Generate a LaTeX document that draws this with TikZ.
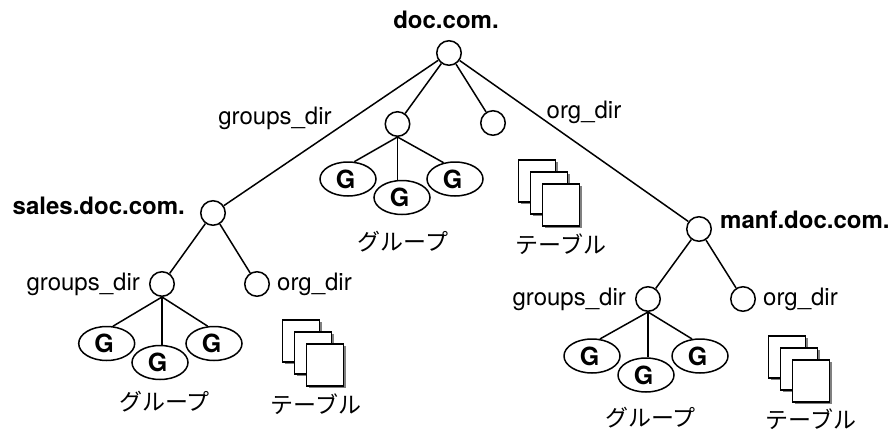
\documentclass[tikz,border=0pt]{standalone}
\usepackage{fontspec}
\setmainfont{TeX Gyre Heros}
\newfontfamily\jpfont{Noto Sans CJK JP}
\usepackage{tikz}
\usetikzlibrary{positioning, shadows, shapes.geometric}
\newcommand{\grpG}{G\kern5pt}
\tikzset{
	dirnode/.style = {draw, circle, line width=1.5pt, inner sep=0pt, minimum size=24.5pt, fill=white},
	grpnode/.style = {draw, ellipse, line width=1.5pt, inner sep=0pt, minimum width=56pt, minimum height=34pt, fill=white, font=\fontsize{25}{27}\selectfont\bfseries},
	page/.style = {draw, line width=1.5pt, inner sep=0pt, minimum width=37pt, minimum height=42pt, fill=white, drop shadow={shadow xshift=2pt, shadow yshift=-2pt, fill=gray, opacity=1}},
	dirlabel/.style = {inner sep=0pt, font=\fontsize{24}{27}\selectfont},
	domlabel/.style = {inner sep=0pt, font=\fontsize{24}{27}\selectfont\bfseries},
	jplabel/.style = {inner sep=0pt, font=\fontsize{23}{27}\selectfont\jpfont},
	link/.style = {line width=1.5pt}
}

\begin{document}
\begin{tikzpicture}[x=1pt, y=-1pt]
	\useasboundingbox (0,0) rectangle (890,433);

	% top level
	\node[dirnode] (root) at (449,53) {};
	\node[dirnode] (rootgrp) at (397.5,124) {};
	\node[dirnode] (rootmid) at (493,123) {};
	\node[dirnode] (sales) at (213,213) {};
	\node[dirnode] (manf) at (699,229) {};
	\node[domlabel] (rootlbl) at (446,20) {doc.com.};
	\node[dirlabel] (rootgrplbl) at (275,118) {groups\_dir};
	\node[dirlabel] (rootorglbl) at (584,112) {org\_dir};
	\node[grpnode] (rootg1) at (348,179) {\grpG};
	\node[grpnode] (rootg2) at (402,197.5) {\grpG};
	\node[grpnode] (rootg3) at (455,179) {\grpG};
	\node[jplabel] (rootgl) at (403,242) {グループ};
	\node[page] (rootp1) at (537,181) {};
	\node[page] (rootp2) at (549,193) {};
	\node[page] (rootp3) at (561,205) {};
	\node[jplabel] (roottl) at (561,244) {テーブル};

	% sales
	\node[dirnode] (salesgrp) at (162,284) {};
	\node[dirnode] (salesorg) at (257,284) {};
	\node[domlabel, anchor=east] (saleslbl) at (185,206) {sales.doc.com.};
	\node[dirlabel, left=9pt of salesgrp] (salesgrplbl) {groups\_dir};
	\node[dirlabel, right=7pt of salesorg] (salesorglbl) {org\_dir};
	\node[grpnode] (salesg1) at (106.7,343.5) {\grpG};
	\node[grpnode] (salesg2) at (160,362.5) {\grpG};
	\node[grpnode] (salesg3) at (214,343.5) {\grpG};
	\node[jplabel] (salesgl) at (164.5,402) {グループ};
	\node[page] (salesp1) at (301,341) {};
	\node[page] (salesp2) at (313,353) {};
	\node[page] (salesp3) at (325,365) {};
	\node[jplabel] (salestl) at (316,404) {テーブル};

	% manf
	\node[dirnode] (manfgrp) at (648,299) {};
	\node[dirnode] (manforg) at (743,299) {};
	\node[domlabel, anchor=west] (manflbl) at (720,220) {manf.doc.com.};
	\node[dirlabel, left=9pt of manfgrp] (manfgrplbl) {groups\_dir};
	\node[dirlabel, right=7pt of manforg] (manforglbl) {org\_dir};
	\node[grpnode] (manfg1) at (592,356) {\grpG};
	\node[grpnode] (manfg2) at (646,375) {\grpG};
	\node[grpnode] (manfg3) at (700,356) {\grpG};
	\node[jplabel] (manfgl) at (650.5,418) {グループ};
	\node[page] (manfp1) at (787,357) {};
	\node[page] (manfp2) at (799,369) {};
	\node[page] (manfp3) at (811,381) {};
	\node[jplabel] (manftl) at (811,419) {テーブル};

	% links
	\draw[link] (root) -- (sales);
	\draw[link] (root) -- (rootgrp);
	\draw[link] (root) -- (rootmid);
	\draw[link] (root) -- (manf);
	\draw[link] (rootgrp.south) -- (rootg1.70);
	\draw[link] (rootgrp.south) -- (rootgrp.south |- rootg2.north);
	\draw[link] (rootgrp.south) -- (rootg3.125);
	\draw[link] (sales) -- (salesgrp);
	\draw[link] (sales) -- (salesorg);
	\draw[link] (salesgrp.south) -- (salesg1.70);
	\draw[link] (salesgrp.south) -- (salesgrp.south |- salesg2.north);
	\draw[link] (salesgrp.south) -- (salesg3.110);
	\draw[link] (manf) -- (manfgrp);
	\draw[link] (manf) -- (manforg);
	\draw[link] (manfgrp.south) -- (manfg1.65);
	\draw[link] (manfgrp.south) -- (manfgrp.south |- manfg2.north);
	\draw[link] (manfgrp.south) -- (manfg3.115);
\end{tikzpicture}
\end{document}
